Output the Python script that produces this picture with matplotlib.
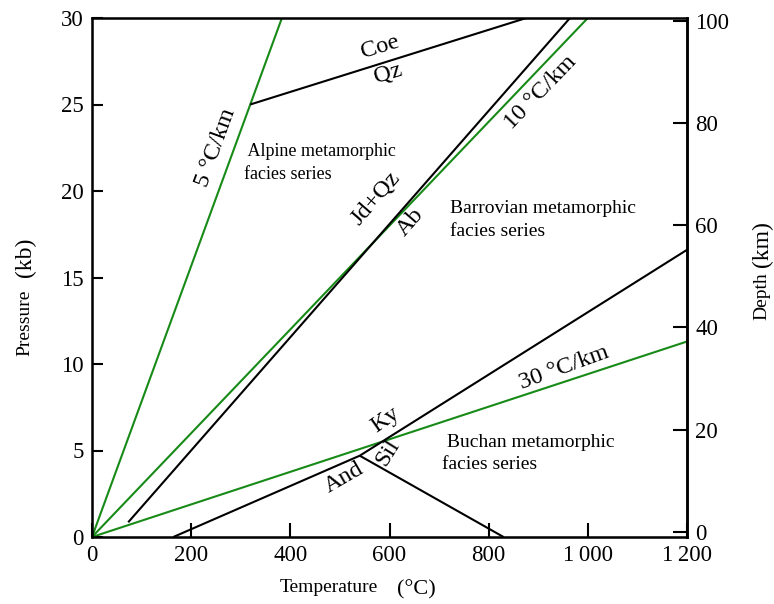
import matplotlib.pyplot as plt

plt.rcParams['font.family'] = ['Liberation Serif', 'DejaVu Serif']

# geotherms (green), T in degC, P in kb
geo_5_T = [0, 383]
geo_5_P = [0, 30]
geo_10_T = [0, 1000]
geo_10_P = [0, 30]
geo_30_T = [0, 1200]
geo_30_P = [0, 11.3]

# reaction curves (black)
coe_T = [319, 876]
coe_P = [25, 30]
jd_T = [73, 964]
jd_P = [0.85, 30]
ky_T = [164, 540, 1200]     # And-Ky then Ky-Sil
ky_P = [0, 4.7, 16.6]
sil_T = [540, 830]          # And-Sil
sil_P = [4.7, 0]

green = '#178a17'
W, H = 774, 604

fig = plt.figure(figsize=(W / 100, H / 100), dpi=100)
ax = fig.add_axes([92 / W, 1 - 537 / H, (687 - 92) / W, (537 - 18) / H])

for t, p in [(geo_5_T, geo_5_P), (geo_10_T, geo_10_P), (geo_30_T, geo_30_P)]:
    ax.plot(t, p, color=green, lw=1.5, solid_capstyle='butt')
for t, p in [(coe_T, coe_P), (jd_T, jd_P), (ky_T, ky_P), (sil_T, sil_P)]:
    ax.plot(t, p, color='black', lw=1.5, solid_capstyle='butt')

ax.set_xlim(0, 1200)
ax.set_ylim(0, 30)
ax.set_xticks([0, 200, 400, 600, 800, 1000, 1200])
ax.set_xticklabels(['0', '200', '400', '600', '800', '1\u2009000', '1\u2009200'])
ax.set_yticks([0, 5, 10, 15, 20, 25, 30])
ax.tick_params(direction='in', length=8, width=1.5, labelsize=16.5, pad=6)
ax.tick_params(axis='x', length=10)
for s in ax.spines.values():
    s.set_linewidth(1.8)

ax2 = ax.twinx()
ax2.set_ylim(-1, 100.5)
ax2.set_yticks([0, 20, 40, 60, 80, 100])
ax2.tick_params(direction='in', length=10, width=1.5, labelsize=16.5, pad=6)
ax2.spines['right'].set_linewidth(1.8)

# curve labels
lab = dict(fontsize=17.5, ha='center', va='center')
ax.text(581, 28.3, 'Coe', rotation=17, **lab)
ax.text(597, 26.8, 'Qz', rotation=17, **lab)
ax.text(250, 22.5, '5 °C/km', rotation=70, **lab)
ax.text(904, 25.7, '10 °C/km', rotation=46, **lab)
ax.text(952, 9.8, '30 °C/km', rotation=20, **lab)
ax.text(572, 19.6, 'Jd+Qz', rotation=49, **lab)
ax.text(643, 18.2, 'Ab', rotation=49, **lab)
ax.text(591, 6.75, 'Ky', rotation=35, **lab)
ax.text(597, 4.85, 'Sil', rotation=58, **lab)
ax.text(508, 3.45, 'And', rotation=30, **lab)

# facies series
ax.text(306, 21.6, ' Alpine metamorphic\nfacies series', fontsize=13,
        ha='left', va='center', linespacing=1.45)
ax.text(722, 18.3, 'Barrovian metamorphic\nfacies series', fontsize=14,
        ha='left', va='center', linespacing=1.45)
ax.text(706, 4.83, ' Buchan metamorphic\nfacies series', fontsize=14,
        ha='left', va='center', linespacing=1.45)

# axis titles
fig.text(329 / W, 1 - 587 / H, 'Temperature', fontsize=14, ha='center', va='center')
fig.text(416 / W, 1 - 590 / H, '(°C)', fontsize=16, ha='center', va='center')
fig.text(25 / W, 1 - 323 / H, 'Pressure', fontsize=14, rotation=90, ha='center', va='center')
fig.text(25 / W, 1 - 257 / H, '(kb)', fontsize=17, rotation=90, ha='center', va='center')
fig.text(762 / W, 1 - 296 / H, 'Depth', fontsize=14, rotation=90, ha='center', va='center')
fig.text(762 / W, 1 - 244 / H, '(km)', fontsize=17, rotation=90, ha='center', va='center')

fig.savefig('out.png', dpi=100)
